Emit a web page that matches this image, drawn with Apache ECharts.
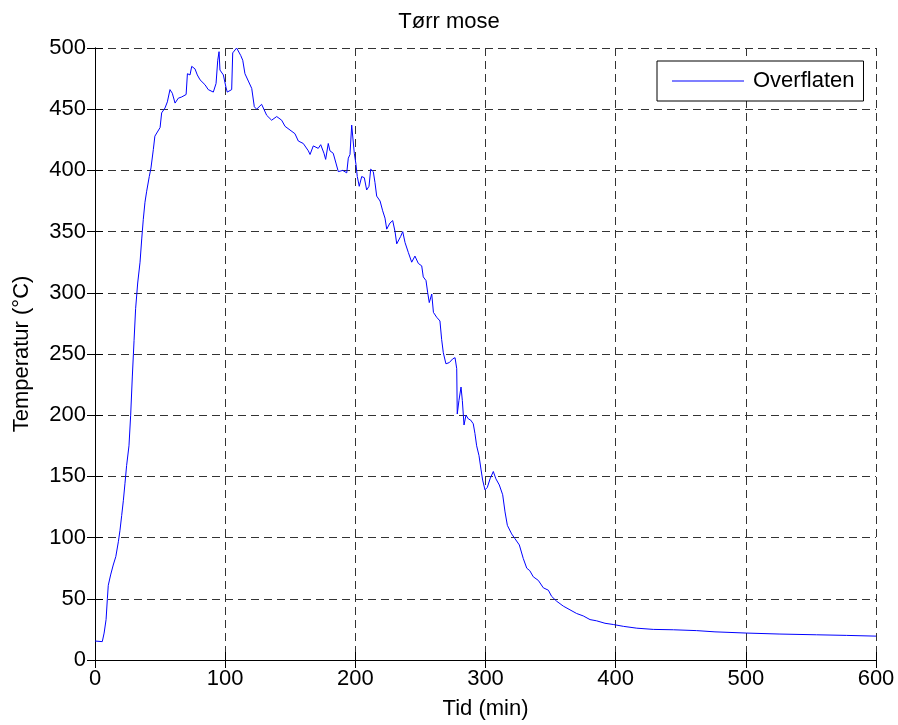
<!DOCTYPE html>
<html>
<head>
<meta charset="utf-8">
<script src="https://cdn.jsdelivr.net/npm/echarts@6/dist/echarts.min.js"></script>
<style>html,body{margin:0;padding:0;background:#fff;}#c{width:898px;height:725px;}</style>
</head>
<body>
<div id="c"></div>
<script>
const titleText = 'Tørr mose';
const xName = 'Tid (min)';
const yName = 'Temperatur (°C)';
const seriesName = 'Overflaten';
const xTicks = [0, 100, 200, 300, 400, 500, 600];
const yTicks = [0, 50, 100, 150, 200, 250, 300, 350, 400, 450, 500];

const timeMin = [0, 5.6, 7, 8.5, 9.5, 10.2, 12, 14, 16, 18, 19.2, 20.5, 21.8, 23, 24.3, 26.1, 27.4, 28.7, 30, 31.2, 32.8, 34.6, 35.9, 37.1, 38.4, 39.7, 41.7, 43, 44.8, 46, 47.4, 50, 51.2, 53.8, 55.6, 57.6, 59.4, 61.5, 64, 66.6, 70, 71, 73, 74.3, 76.8, 78.6, 80.7, 84.5, 87, 90.9, 93, 94.3, 95.3, 96, 98.6, 100.6, 101.6, 105, 105.8, 108.8, 111.9, 113.5, 115.2, 117.8, 120.4, 122.4, 124.2, 128, 131.9, 135.7, 139.6, 143.4, 146, 149.8, 153.6, 156.2, 160, 163.9, 165.2, 167.7, 171.5, 173.4, 175.9, 177.2, 179.2, 180.5, 183, 185.1, 186.9, 190.3, 193.4, 194.6, 195.9, 197.2, 198.4, 199.2, 200.5, 201.5, 203, 204.9, 206.9, 208.7, 210.5, 211.8, 213.8, 215.1, 216.4, 219, 221, 222.8, 224.1, 226.6, 228.7, 230.5, 231.8, 234.8, 236.4, 238.2, 240.7, 243.3, 245.8, 248.4, 251, 252.2, 254.3, 255.6, 256.8, 258.7, 260, 262.5, 265, 266.3, 267.6, 269.6, 272.2, 274.8, 276.6, 277.9, 278.3, 279.6, 281.2, 282.2, 283.5, 285, 286.8, 288.6, 290.6, 291.9, 293.2, 295, 296.5, 297.8, 299.6, 301.4, 303.5, 306, 308, 310.6, 313.2, 315, 316.8, 320.1, 322.7, 326, 329, 331.7, 334, 336.7, 340.6, 344.4, 348.3, 350.8, 354.7, 359.8, 364.9, 370, 375.1, 380.3, 385.4, 391.8, 398.2, 405.9, 416.2, 428.9, 444.3, 462.2, 476.3, 500.6, 526.2, 554.4, 577.5, 600];

const tempC = [15.5, 15, 22, 33, 50, 61, 69.5, 77.6, 84.5, 97, 106, 118, 130.5, 144, 159, 175, 200, 232, 261, 287, 308, 325, 344, 360, 374, 383, 395, 402, 417, 428, 427, 435, 447, 451, 456, 466, 463, 455, 459, 460, 462, 479, 478, 485, 483, 478, 474, 470, 466, 464, 471, 490, 497, 482, 478, 468, 464, 466, 496, 500, 494, 490, 479, 473, 467, 452, 450, 454, 445, 441, 444, 441, 436, 433, 430, 424, 422, 416, 413, 420, 418, 421, 414, 409, 422, 416, 414, 406, 399, 400, 398, 410, 413, 437, 436, 414, 405, 395, 387, 395, 394, 384, 387, 401, 399, 390, 379, 375, 367, 361, 352, 357, 359, 350, 340, 346, 350, 341, 333, 325, 330, 324, 322, 313, 310, 300, 292, 299, 284, 280, 277, 262, 251, 242, 243, 246, 247, 238, 201, 212, 223, 212, 192, 200, 197, 196, 193, 185, 175, 167, 156, 147, 139, 141, 148, 154, 148, 143, 135, 121, 110, 103, 99, 94, 83, 75, 73, 68, 65, 59, 57, 52, 48, 44, 41, 38, 36, 33, 32, 30, 29, 27.5, 26, 25, 24.7, 24, 23, 22, 21.2, 20.6, 20.1, 19.5];

const FONT = '"Liberation Sans", Arial, Helvetica, sans-serif';
const chart = echarts.init(document.getElementById('c'), null, {renderer: 'canvas'});
const pairs = timeMin.map((t, i) => [t, tempC[i]]);
const gridDash = {color: '#333', width: 1, type: [8, 5]};

chart.setOption({
  animation: false,
  backgroundColor: '#fff',
  title: {
    text: titleText, left: 'center', top: 6,
    textStyle: {fontFamily: FONT, fontSize: 22, fontWeight: 'normal', color: '#000'}
  },
  legend: {
    data: [{name: seriesName, icon: 'rect'}], left: 657, top: 61,
    orient: 'vertical',
    backgroundColor: '#fff', borderColor: '#000', borderWidth: 1, borderRadius: 0,
    padding: [9, 9, 9, 15],
    itemWidth: 72, itemHeight: 1,
    itemStyle: {color: '#0000ff', borderWidth: 0},
    textStyle: {fontFamily: FONT, fontSize: 22, color: '#000', padding: [0, 0, 0, 4], lineHeight: 22}
  },
  grid: {left: 95, right: 22, top: 48, bottom: 63, containLabel: false},
  xAxis: [{
    type: 'value', min: xTicks[0], max: xTicks[xTicks.length - 1], interval: 100,
    name: xName, nameLocation: 'middle', nameGap: 38,
    nameTextStyle: {fontFamily: FONT, fontSize: 22, color: '#000'},
    axisLine: {show: true, lineStyle: {color: '#000', width: 1}},
    axisTick: {show: true, inside: true, length: 8, lineStyle: {color: '#000'}},
    axisLabel: {fontFamily: FONT, fontSize: 22, color: '#000', margin: 8},
    splitLine: {show: true, lineStyle: gridDash}
  }, {
    type: 'value', position: 'top', min: xTicks[0], max: xTicks[xTicks.length - 1], interval: 100,
    axisLine: {show: true, lineStyle: {color: '#000', width: 1}},
    axisTick: {show: true, inside: true, length: 8, lineStyle: {color: '#000'}},
    axisLabel: {show: false}, splitLine: {show: false}
  }],
  yAxis: [{
    type: 'value', min: yTicks[0], max: yTicks[yTicks.length - 1], interval: 50,
    name: yName, nameLocation: 'middle', nameGap: 62,
    nameTextStyle: {fontFamily: FONT, fontSize: 22, color: '#000'},
    axisLine: {show: true, lineStyle: {color: '#000', width: 1}},
    axisTick: {show: true, inside: true, length: 8, lineStyle: {color: '#000'}},
    axisLabel: {fontFamily: FONT, fontSize: 22, color: '#000', margin: 9},
    splitLine: {show: true, lineStyle: gridDash}
  }, {
    type: 'value', position: 'right', min: yTicks[0], max: yTicks[yTicks.length - 1], interval: 50,
    axisLine: {show: true, lineStyle: {color: '#000', width: 1}},
    axisTick: {show: true, inside: true, length: 8, lineStyle: {color: '#000'}},
    axisLabel: {show: false}, splitLine: {show: false}
  }],
  series: [{
    name: seriesName, type: 'line', data: pairs,
    xAxisIndex: 0, yAxisIndex: 0,
    symbol: 'none', showSymbol: false,
    lineStyle: {color: '#0000ff', width: 1},
    itemStyle: {color: '#0000ff'},
    clip: true
  }]
});
</script>
</body>
</html>
